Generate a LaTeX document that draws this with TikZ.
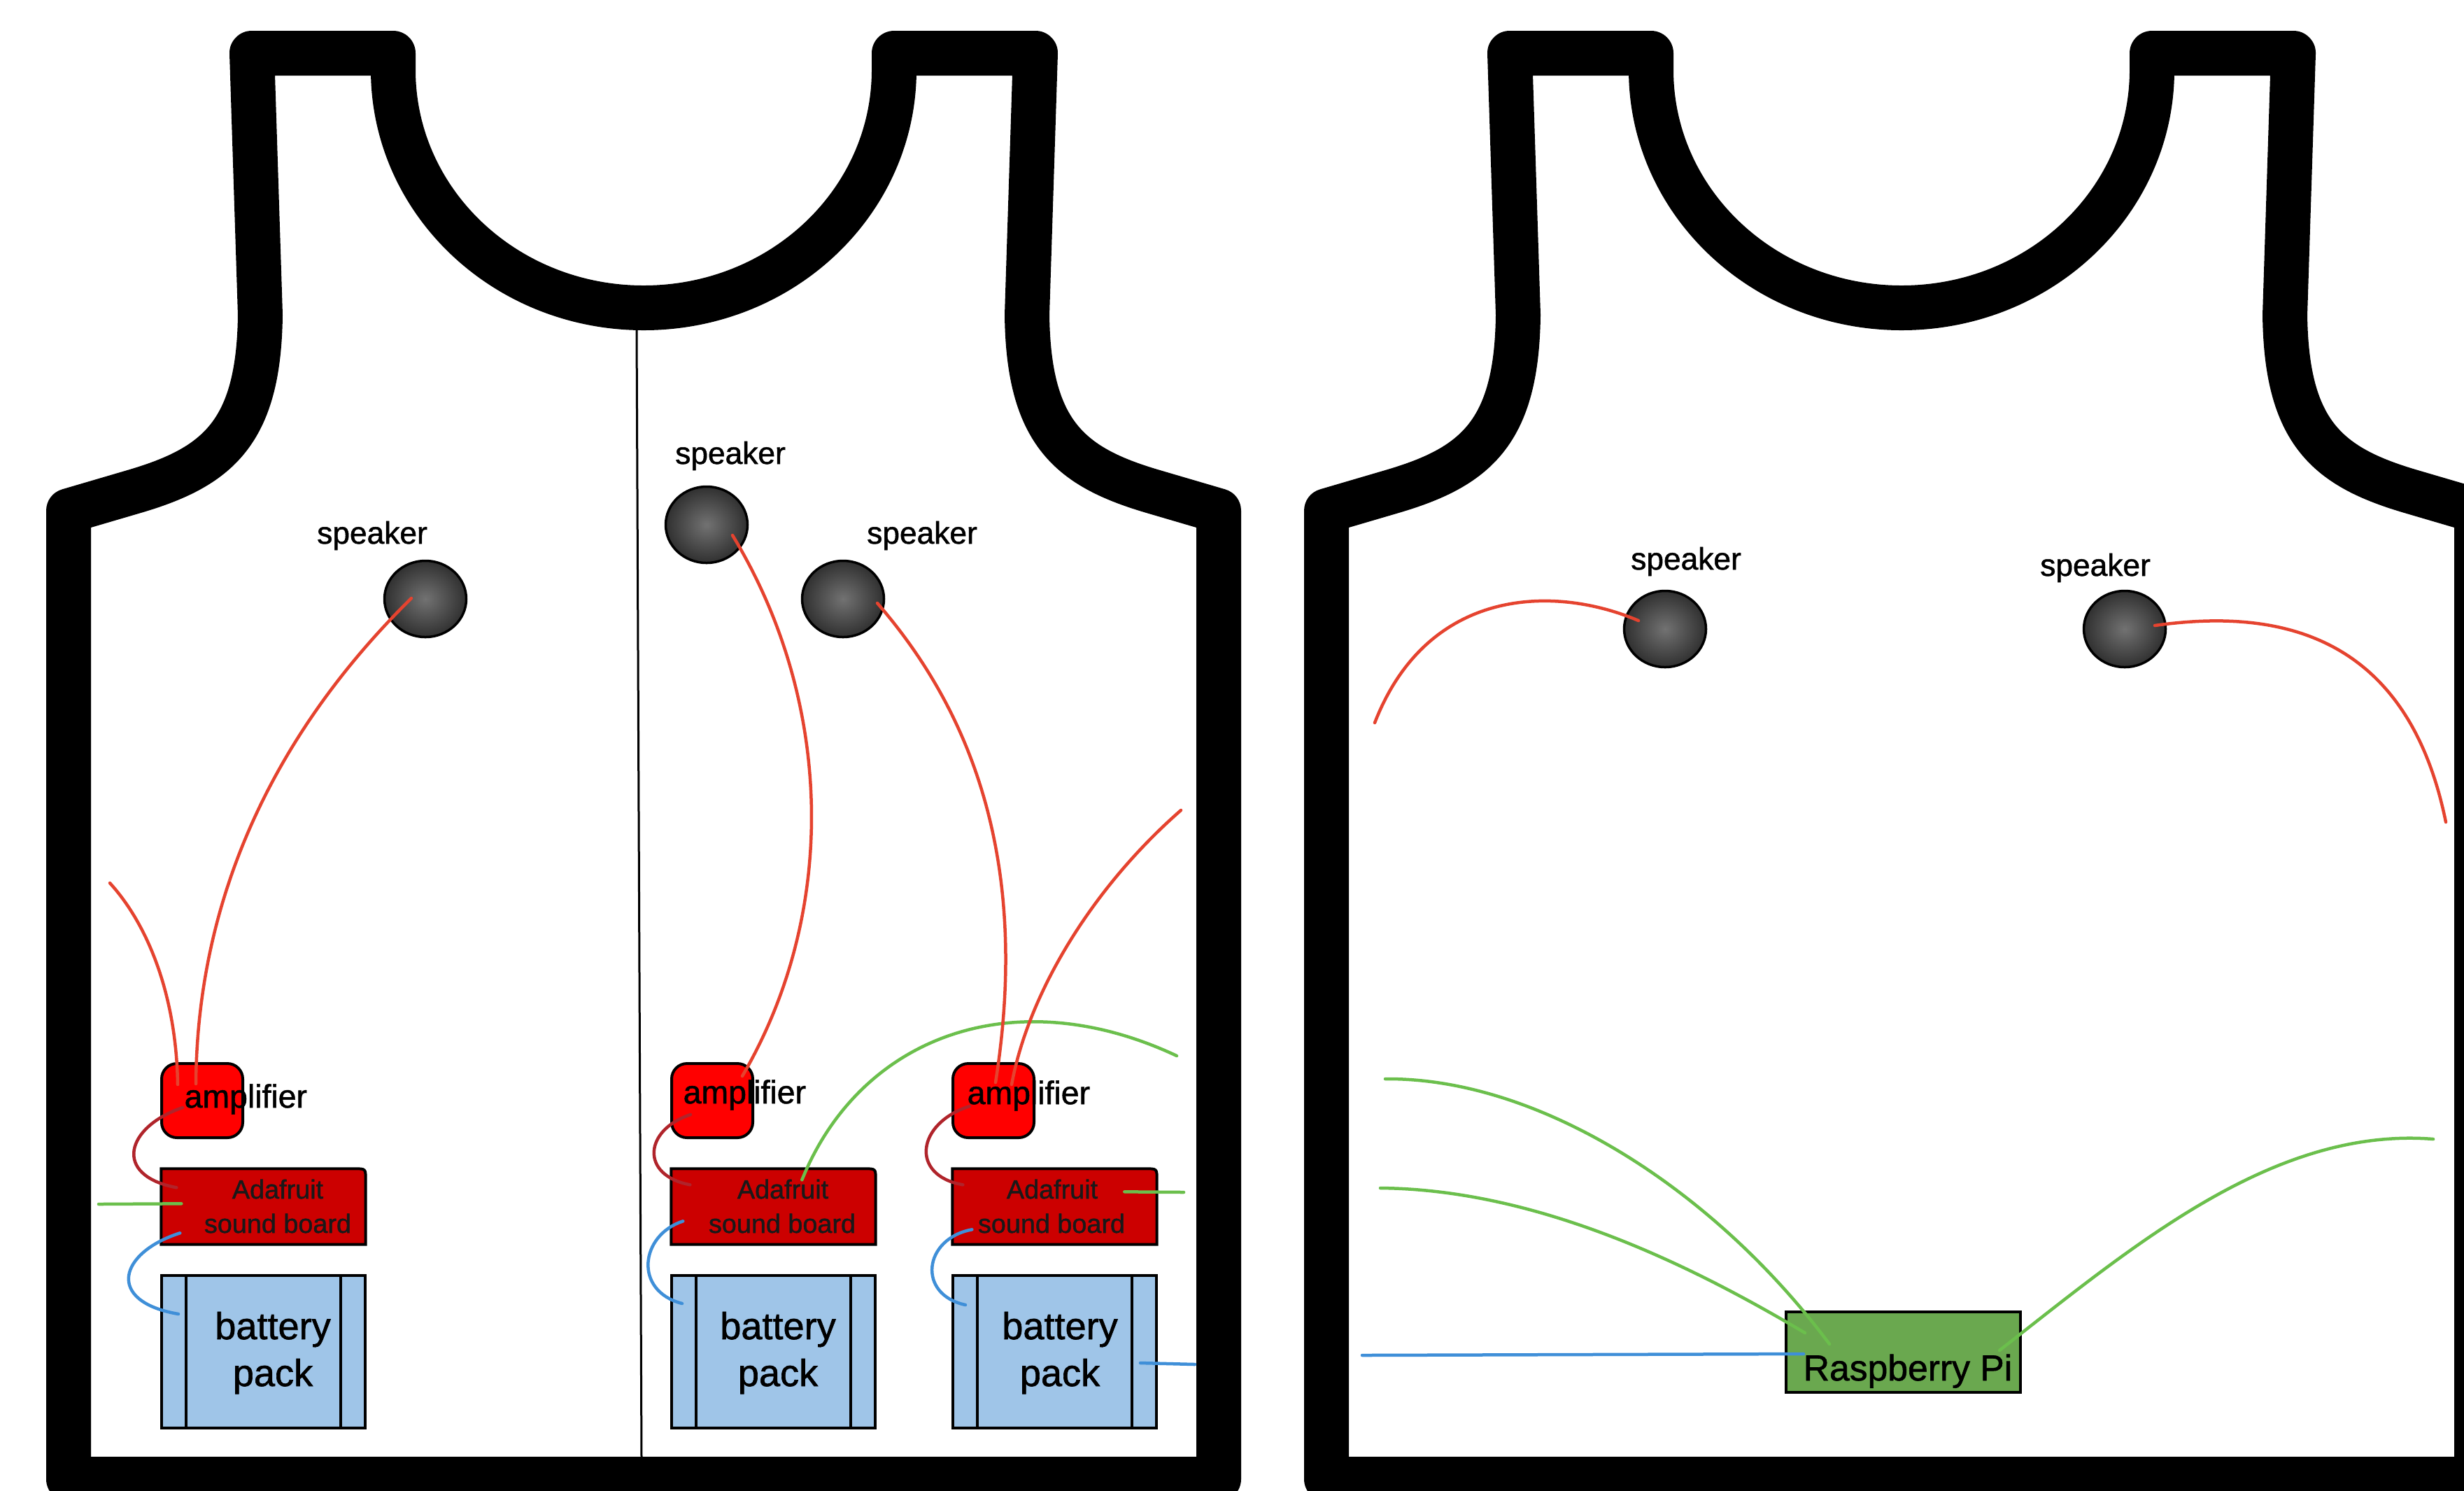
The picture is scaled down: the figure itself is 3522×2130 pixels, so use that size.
\documentclass[tikz,border=0pt]{standalone}
\usepackage{fontspec}
\setmainfont{Liberation Sans}
\newfontfamily\lblfont{Liberation Sans}[FakeBold=1.2]
\usetikzlibrary{calc,shapes.geometric}

\definecolor{ampred}{HTML}{FF0000}
\definecolor{boardred}{HTML}{CC0000}
\definecolor{battblue}{HTML}{9FC5E8}
\definecolor{pigreen}{HTML}{6AA84F}
\definecolor{wirered}{HTML}{E5432F}
\definecolor{wiredark}{HTML}{B0242B}
\definecolor{wiregreen}{HTML}{6BBF4C}
\definecolor{wireblue}{HTML}{3F8FD8}
\definecolor{spkin}{HTML}{727272}
\definecolor{spkout}{HTML}{303030}

\tikzset{
  vestline/.style={draw=black, line width=6.4mm, line join=round},
  % outline of one tank top, centred on the pic origin
  vest/.pic={
    \draw[vestline] (-822,2114) -- (-822,730) -- (-730,703)
      .. controls (-610,668) and (-550,620) .. (-548,450)
      -- (-560,76) -- (-358,76) -- (-358,100)
      .. controls (-358,288) and (-198,440) .. (0,440)
      .. controls (198,440) and (358,288) .. (358,100)
      -- (358,76) -- (560,76) -- (548,450)
      .. controls (550,620) and (610,668) .. (730,703)
      -- (822,730) -- (822,2114) -- cycle;
  },
  wire/.style={line width=0.45mm, line cap=round},
  redwire/.style={wire, draw=wirered},
  darkwire/.style={wire, draw=wiredark},
  greenwire/.style={wire, draw=wiregreen},
  bluewire/.style={wire, draw=wireblue},
  spk/.style={ellipse, draw=black, line width=0.35mm, minimum width=11.7mm,
    minimum height=10.9mm, inner sep=0pt, shade, shading=radial,
    inner color=spkin, outer color=spkout},
  amp/.style={rectangle, rounded corners=2.2mm, draw=black, line width=0.4mm,
    fill=ampred, minimum width=11.6mm, minimum height=10.6mm, inner sep=0pt},
  boardbox/.style={rectangle, minimum width=29.1mm, minimum height=10.7mm, inner sep=0pt},
  boardfill/.style={draw=black, line width=0.4mm, fill=boardred},
  batt/.style={rectangle, draw=black, line width=0.4mm, fill=battblue,
    minimum width=29.1mm, minimum height=21.8mm, inner sep=0pt},
  strip/.style={draw=black, line width=0.4mm},
  pibox/.style={rectangle, draw=black, line width=0.4mm, fill=pigreen,
    minimum width=33.5mm, minimum height=11.5mm, inner sep=0pt},
  spklbl/.style={font=\lblfont\fontsize{12.6}{15}\selectfont, anchor=base, inner sep=0pt},
  amplbl/.style={font=\lblfont\fontsize{13.2}{16}\selectfont, anchor=base west, inner sep=0pt},
  bdlbl/.style={font=\lblfont\fontsize{10.75}{13}\selectfont, anchor=base, inner sep=0pt, text=black!90},
  battlbl/.style={font=\lblfont\fontsize{15.4}{18}\selectfont, anchor=base, inner sep=0pt},
  pilbl/.style={font=\lblfont\fontsize{14.7}{18}\selectfont, anchor=base, inner sep=0pt},
}

% sound board: square corners except the upper right one
\newcommand{\soundboard}[1]{%
  \path[boardfill] (#1.south west) -- (#1.north west)
    -- ($(#1.north east)+(-16,0)$) .. controls (#1.north east) .. ($(#1.north east)+(0,16)$)
    -- (#1.south east) -- cycle;}
% battery pack: two end strips
\newcommand{\battstrips}[1]{%
  \draw[strip] ($(#1.north west)+(37,0)$) -- ($(#1.south west)+(37,0)$);
  \draw[strip] ($(#1.north east)+(-37,0)$) -- ($(#1.south east)+(-37,0)$);}

\begin{document}
\begin{tikzpicture}[x=0.1mm, y=-0.1mm]
\useasboundingbox (0,0) rectangle (3522,2130);
\fill[white] (0,0) rectangle (3522,2130);
\clip (0,0) rectangle (3522,2130);

% ---------- garments ----------
\pic (vestL) at (920,0) {vest};
\pic (vestR) at (2718,0) {vest};
\coordinate (divTop) at (910,472);
\coordinate (divBot) at (917,2084);
\draw[line width=0.3mm] (divTop) -- (divBot);

% ---------- left garment, left half ----------
\node[spk] (spkA) at (608,856) {};
\node[amp] (ampA) at (289,1573) {};
\node[boardbox] (bdA) at (376.5,1724.5) {};
\soundboard{bdA}
\node[batt] (batA) at (376.5,1932) {};
\battstrips{batA}

% ---------- left garment, right half ----------
\node[spk] (spkB) at (1010,750) {};
\node[spk] (spkC) at (1205,856) {};
\node[amp] (ampB) at (1018,1573) {};
\node[boardbox] (bdB) at (1105.5,1724.5) {};
\soundboard{bdB}
\node[batt] (batB) at (1105.5,1932) {};
\battstrips{batB}
\node[amp] (ampC) at (1420,1573) {};
\node[boardbox] (bdC) at (1507.5,1724.5) {};
\soundboard{bdC}
\node[batt] (batC) at (1507.5,1932) {};
\battstrips{batC}

% ---------- right garment ----------
\node[spk] (spkD) at (2380,899) {};
\node[spk] (spkE) at (3037,899) {};
\node[pibox] (rpi) at (2720.5,1932.5) {};

% ---------- loose wire ends ----------
\coordinate (wA1) at (157,1262);
\coordinate (wA2) at (141,1721);
\coordinate (wB1) at (1682,1509);
\coordinate (wC1) at (1688,1158);
\coordinate (wC2) at (1692,1704);
\coordinate (wC3) at (1708,1950);
\coordinate (wD1) at (1965,1033);
\coordinate (wD2) at (1980,1542);
\coordinate (wD3) at (1973,1698);
\coordinate (wD4) at (1947,1937);
\coordinate (wE1) at (3496,1175);
\coordinate (wE2) at (3478,1628);

% ---------- wiring, section A ----------
\draw[redwire] (wA1) .. controls (210,1320) and (252,1420) .. ($(ampA.north west)+(25,32)$);
\draw[redwire] ($(spkA.center)+(-20,-1)$) .. controls (420,1020) and (282,1250) .. ($(ampA.north west)+(51,31)$);
\draw[darkwire] ($(ampA.north west)+(32,65)$) .. controls (180,1610) and (160,1680) .. ($(bdA.north west)+(22,27)$);
\draw[greenwire] (wA2) -- ($(bdA.north west)+(29,50)$);
\draw[bluewire] ($(bdA.north west)+(27,92)$) .. controls (170,1790) and (150,1860) .. ($(batA.north west)+(26,57)$);

% ---------- wiring, section B ----------
\draw[redwire] ($(spkB.center)+(37,15)$) .. controls (1190,1000) and (1200,1300) .. ($(ampB.north west)+(103,20)$);
\draw[darkwire] ($(ampB.north west)+(29,75)$) .. controls (920,1615) and (915,1680) .. ($(bdB.north west)+(27,23)$);
\draw[greenwire] ($(bdB.north west)+(187,16)$) .. controls (1230,1480) and (1450,1400) .. (wB1);
\draw[bluewire] ($(bdB.north west)+(17,75)$) .. controls (915,1765) and (905,1845) .. ($(batB.north west)+(17,42)$);

% ---------- wiring, section C ----------
\draw[redwire] ($(spkC.center)+(49,6)$) .. controls (1400,1030) and (1470,1250) .. ($(ampC.north west)+(63,29)$);
\draw[redwire] (wC1) .. controls (1560,1270) and (1470,1420) .. ($(ampC.north west)+(86,32)$);
\draw[darkwire] ($(ampC.north west)+(26,63)$) .. controls (1310,1605) and (1300,1680) .. ($(bdC.north west)+(15,23)$);
\draw[greenwire] ($(bdC.north west)+(246,33)$) -- (wC2);
\draw[bluewire] ($(bdC.north west)+(28,87)$) .. controls (1320,1770) and (1310,1850) .. ($(batC.north west)+(20,44)$);
\draw[bluewire] ($(batC.north west)+(270,127)$) -- (wC3);

% ---------- wiring, right garment ----------
\draw[redwire] ($(spkD.center)+(-38,-12)$) .. controls (2220,835) and (2040,840) .. (wD1);
\draw[redwire] ($(spkE.center)+(43,-5)$) .. controls (3250,870) and (3440,900) .. (wE1);
\draw[greenwire] (wD2) .. controls (2200,1540) and (2450,1700) .. ($(rpi.north west)+(64,48)$);
\draw[greenwire] (wD3) .. controls (2200,1700) and (2420,1810) .. ($(rpi.north west)+(29,32)$);
\draw[greenwire] ($(rpi.north west)+(307,57)$) .. controls (3050,1780) and (3250,1610) .. (wE2);
\draw[bluewire] (wD4) -- ($(rpi.north west)+(27,62)$);

% ---------- labels ----------
\node[spklbl] (lblA) at (532,777) {speaker};
\node[spklbl] (lblB) at (1044,663) {speaker};
\node[spklbl] (lblC) at (1318,777) {speaker};
\node[spklbl] (lblD) at (2410,814) {speaker};
\node[spklbl] (lblE) at (2995,823) {speaker};

\node[amplbl] (tAmpA) at (263,1583) {amplifier};
\node[amplbl] (tAmpB) at (976,1577) {amplifier};
\node[amplbl] (tAmpC) at (1382,1578) {amplifier};

\node[bdlbl] (tBdA1) at (397,1713) {Adafruit};
\node[bdlbl] (tBdA2) at (397,1762) {sound board};
\node[bdlbl] (tBdB1) at (1119,1713) {Adafruit};
\node[bdlbl] (tBdB2) at (1118,1762) {sound board};
\node[bdlbl] (tBdC1) at (1504,1713) {Adafruit};
\node[bdlbl] (tBdC2) at (1503,1762) {sound board};

\node[battlbl] (tBatA1) at (390,1914) {battery};
\node[battlbl] (tBatA2) at (390,1981) {pack};
\node[battlbl] (tBatB1) at (1112,1914) {battery};
\node[battlbl] (tBatB2) at (1112,1981) {pack};
\node[battlbl] (tBatC1) at (1515,1914) {battery};
\node[battlbl] (tBatC2) at (1515,1981) {pack};

\node[pilbl] (tPi) at (2727,1973) {Raspberry Pi};
\end{tikzpicture}
\end{document}
